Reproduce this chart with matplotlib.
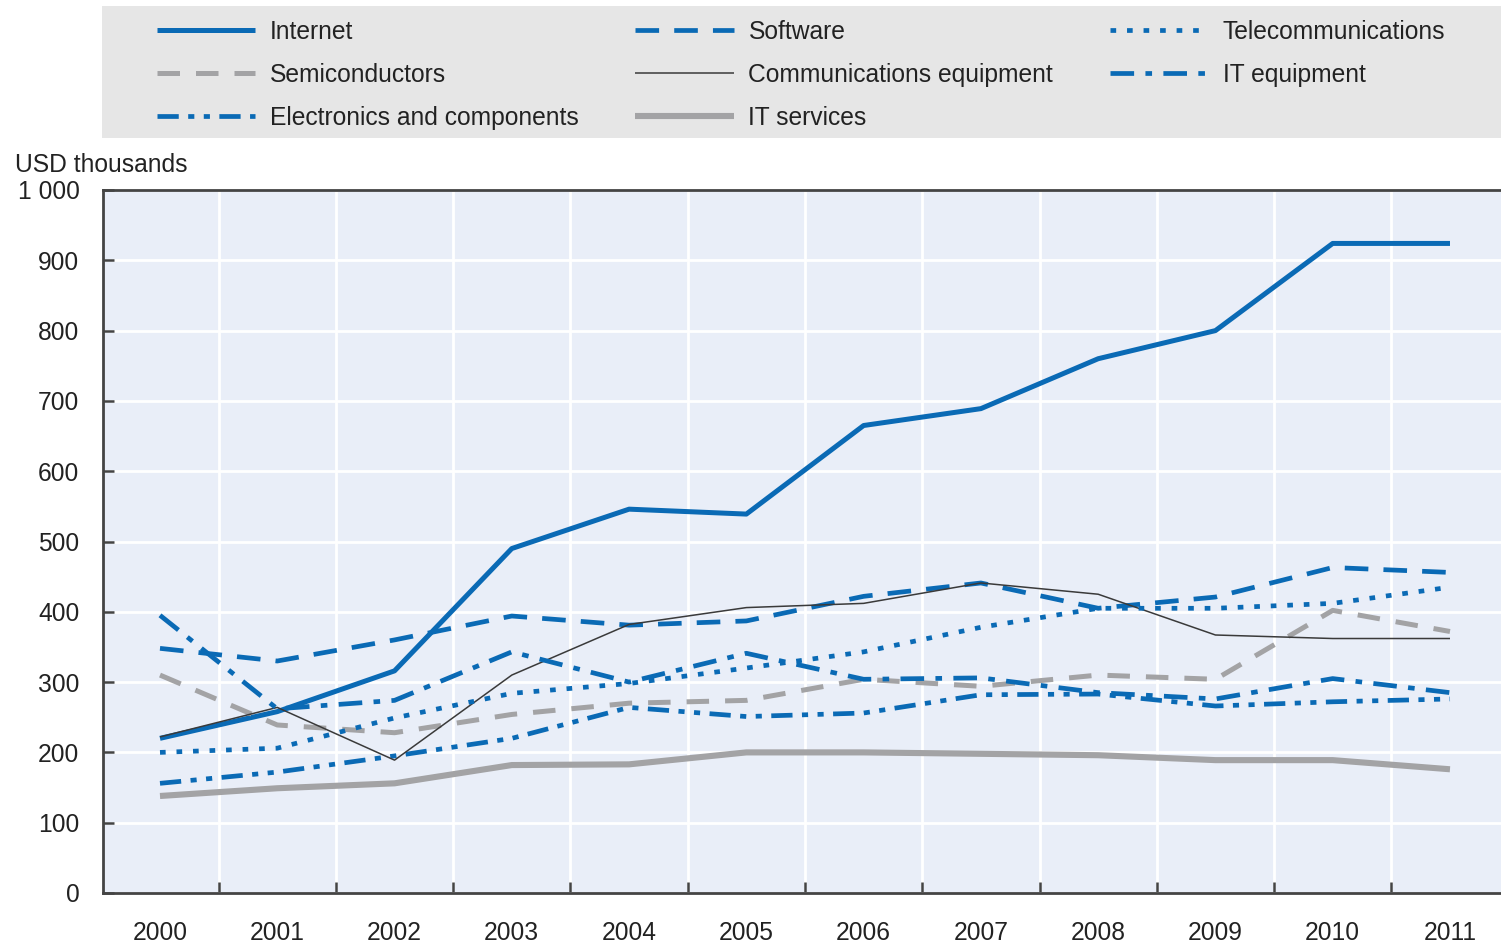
"""Average venture capital deal size by ICT sub-sector, 2000-2011."""

import matplotlib
matplotlib.use("Agg")
import matplotlib.pyplot as plt
from matplotlib.patches import Rectangle
from matplotlib.ticker import FixedLocator, FuncFormatter

plt.rcParams["font.family"] = ["Liberation Sans", "DejaVu Sans"]

years = ["2000", "2001", "2002", "2003", "2004", "2005",
         "2006", "2007", "2008", "2009", "2010", "2011"]

internet = [220, 258, 316, 490, 546, 539, 665, 689, 760, 800, 924, 924]
software = [348, 330, 360, 394, 381, 387, 422, 441, 405, 421, 463, 456]
telecom = [200, 206, 249, 284, 298, 320, 343, 378, 405, 405, 412, 435]
semiconductors = [310, 239, 228, 254, 270, 274, 304, 294, 310, 304, 402, 372]
comms_equipment = [222, 264, 189, 310, 382, 406, 412, 441, 425, 367, 362, 362]
it_equipment = [395, 262, 274, 343, 300, 341, 304, 306, 285, 276, 305, 285]
electronics = [156, 172, 195, 220, 264, 251, 256, 282, 283, 266, 272, 276]
it_services = [138, 149, 156, 182, 183, 200, 200, 198, 196, 189, 189, 176]

BLUE = "#0a6ab5"
GREY = "#a3a3a5"
DARK = "#3a3a3a"
TEXT = "#222222"
FS = 17.7

fig = plt.figure(figsize=(15.01, 9.44), dpi=100)
ax = fig.add_axes([103 / 1501, 1 - 893 / 944, 1 - 103 / 1501, (893 - 190) / 944])
ax.set_facecolor("#e9eef8")

x = list(range(len(years)))
# listed column by column so the three-column legend reads row by row
series = [
    ("Internet", internet, dict(color=BLUE, lw=3.6, ls="-")),
    ("Semiconductors", semiconductors, dict(color=GREY, lw=3.6, ls=(0, (4.5, 3.2)))),
    ("Electronics and components", electronics,
     dict(color=BLUE, lw=3.4, ls=(0, (4.5, 2.0, 1.3, 2.0, 1.3, 2.0)))),
    ("Software", software, dict(color=BLUE, lw=3.4, ls=(0, (5.0, 3.2)))),
    ("Communications equipment", comms_equipment, dict(color=DARK, lw=1.1, ls="-")),
    ("IT services", it_services, dict(color=GREY, lw=4.4, ls="-")),
    ("Telecommunications", telecom, dict(color=BLUE, lw=3.4, ls=(0, (1.2, 2.3)))),
    ("IT equipment", it_equipment, dict(color=BLUE, lw=3.4, ls=(0, (5.0, 2.4, 1.4, 2.4)))),
]

handles = []
for label, values, style in series:
    line, = ax.plot(x, values, label=label, solid_capstyle="butt",
                    dash_capstyle="butt", zorder=3, **style)
    handles.append(line)

ax.set_xlim(-0.486, 11.435)
ax.set_ylim(0, 1000)

# year labels sit in the middle of each band, tick marks on the band edges
ax.xaxis.set_major_locator(FixedLocator(x))
ax.set_xticklabels(years)
ax.xaxis.set_minor_locator(FixedLocator([i + 0.5 for i in x[:-1]]))
ax.tick_params(axis="x", which="major", length=0, pad=20, labelsize=FS, labelcolor=TEXT)
ax.tick_params(axis="x", which="minor", direction="in", length=8, width=1.8, color="#444444")

ax.yaxis.set_major_locator(FixedLocator(range(0, 1001, 100)))
ax.yaxis.set_major_formatter(FuncFormatter(lambda v, _: f"{int(v):,}".replace(",", " ")))
ax.tick_params(axis="y", direction="in", length=8, width=1.8, color="#444444",
               pad=17, labelsize=FS, labelcolor=TEXT)

ax.grid(True, axis="y", which="major", color="white", lw=2)
ax.grid(True, axis="x", which="minor", color="white", lw=2)
ax.set_axisbelow(True)

for side in ("left", "bottom", "top"):
    ax.spines[side].set_color("#444444")
    ax.spines[side].set_linewidth(2)
ax.spines["right"].set_visible(False)

fig.text(15 / 1501, 1 - 165 / 944, "USD thousands", fontsize=FS,
         color=TEXT, va="center", ha="left")

# grey band behind the legend
fig.patches.append(Rectangle((102 / 1501, 1 - 138 / 944), 1 - 102 / 1501, 132 / 944,
                             transform=fig.transFigure, facecolor="#e6e6e6",
                             edgecolor="none", zorder=0))

fig.legend(handles=handles, loc="upper left", bbox_to_anchor=(157 / 1501, 1 - 20 / 944),
           ncol=3, frameon=False, fontsize=FS, handlelength=4.0, handletextpad=0.6,
           columnspacing=2.3, labelspacing=0.77, borderpad=0, borderaxespad=0,
           labelcolor=TEXT)

fig.savefig("out.png", dpi=100)
